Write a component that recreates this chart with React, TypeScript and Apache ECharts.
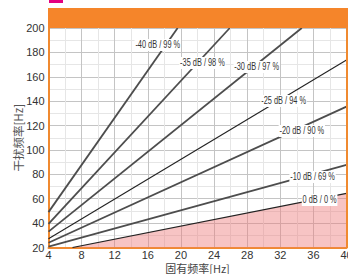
import React, { useEffect, useRef } from "react";
import * as echarts from "echarts";

// Curve names (isolation level / efficiency)
const curveNames = [
  "-40 dB / 99 %",
  "-35 dB / 98 %",
  "-30 dB / 97 %",
  "-25 dB / 94 %",
  "-20 dB / 90 %",
  "-10 dB / 69 %",
  "0 dB / 0 %",
];

// [natural frequency Hz, disturbing frequency Hz]
const curve40 = [[4, 49], [19.6, 200]];
const curve35 = [[4, 39.3], [25.9, 200]];
const curve30 = [[4, 33], [34.6, 200]];
const curve25 = [[4, 27.2], [40, 173.8]];
const curve20 = [[4, 23.9], [40, 135.5]];
const curve10 = [[4, 20.7], [40, 87.7]];
const curve0 = [[6.9, 20], [40, 64.4]];

const curves = [curve40, curve35, curve30, curve25, curve20, curve10, curve0];

const xTitle = "固有频率[Hz]";
const yTitle = "干扰频率[Hz]";

export default function App() {
  const ref = useRef<HTMLDivElement>(null);
  useEffect(() => {
    document.body.style.margin = "0";
    const chart = echarts.init(ref.current!, undefined, { renderer: "svg" });
    const labelAt = [
      [17.2, 186],
      [22.6, 171.3],
      [29.15, 168],
      [32.4, 140.1],
      [34.6, 115.5],
      [35.9, 77.8],
      [36.75, 59],
    ];
    const styles = [
      { color: "#4d4d4d", width: 1.8 },
      { color: "#4d4d4d", width: 1.8 },
      { color: "#4d4d4d", width: 1.8 },
      { color: "#222", width: 1.1 },
      { color: "#4d4d4d", width: 1.8 },
      { color: "#4d4d4d", width: 1.8 },
      { color: "#222", width: 1.1 },
    ];
    const series: any[] = curves.map((d, i) => ({
      type: "line",
      name: curveNames[i],
      data: d,
      symbol: "none",
      lineStyle: styles[i],
      z: 3,
      areaStyle: i === 6 ? { color: "#ee7d7d", opacity: 0.45, origin: "start" } : undefined,
    }));
    const baseGraphic: any[] = [
      { type: "rect", left: 48, top: 8, shape: { width: 300, height: 20 }, style: { fill: "#f5852a" }, z: 10 },
      { type: "rect", left: 346, top: 27, shape: { width: 2, height: 221 }, style: { fill: "#f08a30" }, z: 10 },
      { type: "rect", left: 49, top: 0, shape: { width: 14, height: 3 }, style: { fill: "#e4007f" }, z: 10 },
    ];
    chart.setOption({
      animation: false,
      grid: { left: 48.5, right: 1.5, top: 28, bottom: 26.5, containLabel: false, outerBoundsMode: "none" },
      xAxis: {
        type: "value",
        min: 4,
        max: 40,
        interval: 4,
        name: xTitle,
        nameLocation: "middle",
        nameGap: 15,
        nameMoveOverlap: false,
        nameTextStyle: { fontSize: 11, color: "#444", fontFamily: "Noto Sans CJK SC", lineHeight: 11 },
        axisLine: { show: true, lineStyle: { color: "#f08a30", width: 2 } },
        axisTick: { show: false },
        axisLabel: { fontSize: 11, color: "#333", margin: 2, fontFamily: "Liberation Sans", lineHeight: 11 },
        splitLine: { show: true, lineStyle: { color: "#c4c4c4", width: 1 } },
        minorTick: { show: false, splitNumber: 2 },
        minorSplitLine: { show: true, lineStyle: { color: "#e6e6e6", width: 1 } },
      },
      yAxis: {
        type: "value",
        min: 20,
        max: 200,
        interval: 20,
        name: yTitle,
        nameLocation: "middle",
        nameGap: 25,
        nameMoveOverlap: false,
        nameTextStyle: { fontSize: 11.5, color: "#555", fontFamily: "Noto Sans CJK SC" },
        axisLine: { show: true, lineStyle: { color: "#f08a30", width: 2 } },
        axisTick: { show: false },
        axisLabel: { fontSize: 11, color: "#333", margin: 4, fontFamily: "Liberation Sans" },
        splitLine: { show: true, lineStyle: { color: "#c4c4c4", width: 1 } },
        minorTick: { show: false, splitNumber: 2 },
        minorSplitLine: { show: true, lineStyle: { color: "#e6e6e6", width: 1 } },
      },
      graphic: baseGraphic,
      series,
    });
    const labelGraphic = labelAt.map((c, i) => {
      const p = chart.convertToPixel({ gridIndex: 0 }, c) as number[];
      return {
        type: "text",
        x: p[0],
        y: p[1],
        scaleX: 0.74,
        z: 20,
        style: {
          text: curveNames[i],
          font: "10px 'Liberation Sans', sans-serif",
          fill: "#333",
          align: "center",
          verticalAlign: "middle",
          backgroundColor: "#fff",
          padding: [1, 1, 1, 1],
        },
      };
    });
    chart.setOption({ graphic: [...baseGraphic, ...labelGraphic] });
    return () => chart.dispose();
  }, []);
  return <div ref={ref} style={{ position: "absolute", left: 0, top: 0, width: 348, height: 274 }} />;
}
